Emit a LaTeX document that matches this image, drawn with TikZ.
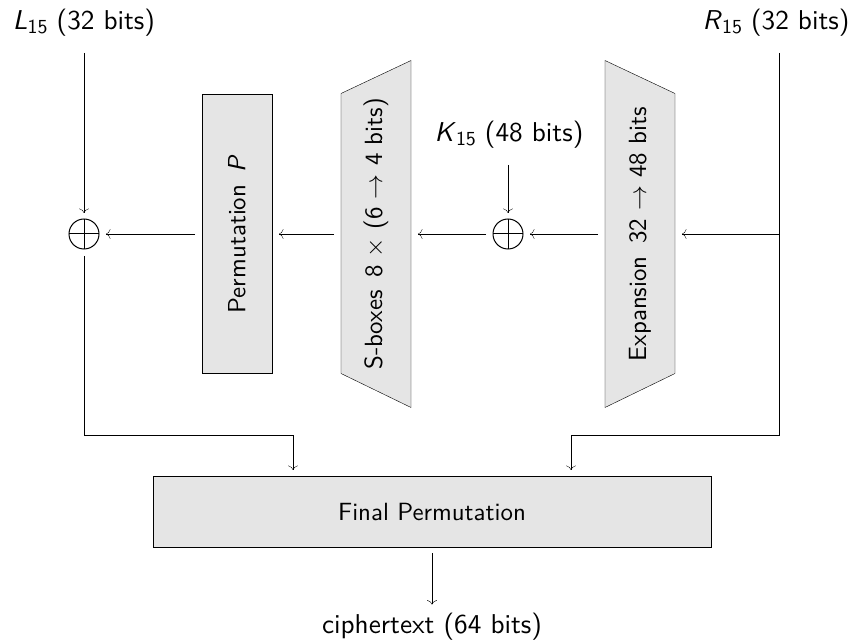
\documentclass[tikz,border=0pt]{standalone}
\usepackage{fontspec}
\setsansfont{lmsans10-regular.otf}[ItalicFont=lmsans10-oblique.otf]
\usetikzlibrary{backgrounds,arrows.meta}
\newcommand{\mysub}[1]{\raisebox{-4pt}{\fontsize{19.9}{19.9}\selectfont #1}}
\begin{document}
\begin{tikzpicture}[x=1pt,y=-1pt, line width=1pt,
  >={To[length=4.5pt,width=10pt]},
  every node/.style={font=\fontsize{24.88}{30}\selectfont\sffamily, inner sep=3pt, outer sep=0pt},
  lbl/.style={anchor=base, font=\fontsize{27.24}{32}\selectfont\sffamily},
  blk/.style={draw, fill=black!10, minimum width=70pt},
  trap/.style={minimum width=70pt, minimum height=347pt},
  trapfill/.style={draw, fill=black!10, line join=miter},
  xor/.style={circle, draw, minimum size=30pt, inner sep=0pt,
    path picture={\draw (path picture bounding box.north) -- (path picture bounding box.south)
                        (path picture bounding box.west) -- (path picture bounding box.east);}},
  conn/.style={->, shorten >=7pt, shorten <=7pt}]
\useasboundingbox (0,0) rectangle (855,644);

% labels
\node[lbl] (l15) at (84,30) {\textit{L}\mysub{15} (32 bits)};
\node[lbl] (r15) at (776,30) {\textit{R}\mysub{15} (32 bits)};
\node[lbl] (k15) at (509,142) {\textit{K}\mysub{15} (48 bits)};
\node[lbl] (ct) at (432,633) {ciphertext (64 bits)};

% xor nodes
\node[xor] (xorL) at (84,234) {};
\node[xor] (xorK) at (508,234) {};

% blocks
\node[blk, minimum height=279pt] (perm) at (237,234)
  {\rotatebox{90}{Permutation\enspace\textit{P}}};
\node[trap] (sbox) at (376,234)
  {\rotatebox{90}{S-boxes\enspace 8 $\times$ (6 $\rightarrow$ 4 bits)}};
\node[trap] (exp) at (640,234)
  {\rotatebox{90}{Expansion\enspace 32 $\rightarrow$ 48 bits}};
\node[blk, minimum width=558pt, minimum height=70pt] (fin) at (432,512) {Final Permutation};

\begin{pgfonlayer}{background}
  \draw[trapfill] (sbox.north east) -- (sbox.south east)
     -- ([yshift=34pt]sbox.south west) -- ([yshift=-33pt]sbox.north west) -- cycle;
  \draw[trapfill] (exp.north west) -- (exp.south west)
     -- ([yshift=34pt]exp.south east) -- ([yshift=-33pt]exp.north east) -- cycle;
\end{pgfonlayer}

% coordinates
\coordinate (lt) at (84,53);
\coordinate (rt) at (779,53);
\coordinate (kt) at (508,165);
\coordinate (rb) at (779,234);
\coordinate (lc) at (84,435);
\coordinate (ld) at (293,435);
\coordinate (rc) at (779,435);
\coordinate (rd) at (571,435);

% connectors
\draw[->, shorten >=6pt] (lt) -- (xorL);
\draw[->, shorten >=6pt] (kt) -- (xorK);
\draw[->, shorten >=7pt] (rb) -- (exp);
\draw[conn] (exp) -- (xorK);
\draw[conn] (xorK) -- (sbox);
\draw[conn] (sbox) -- (perm);
\draw[conn] (perm) -- (xorL);
\draw[->, shorten <=7pt, shorten >=7pt] (xorL) -- (lc) -- (ld) -- (ld |- fin.north);
\draw[->, shorten >=7pt] (rt) -- (rc) -- (rd) -- (rd |- fin.north);
\draw[->, shorten <=6pt, shorten >=5pt] (fin) -- (ct);
\end{tikzpicture}
\end{document}
